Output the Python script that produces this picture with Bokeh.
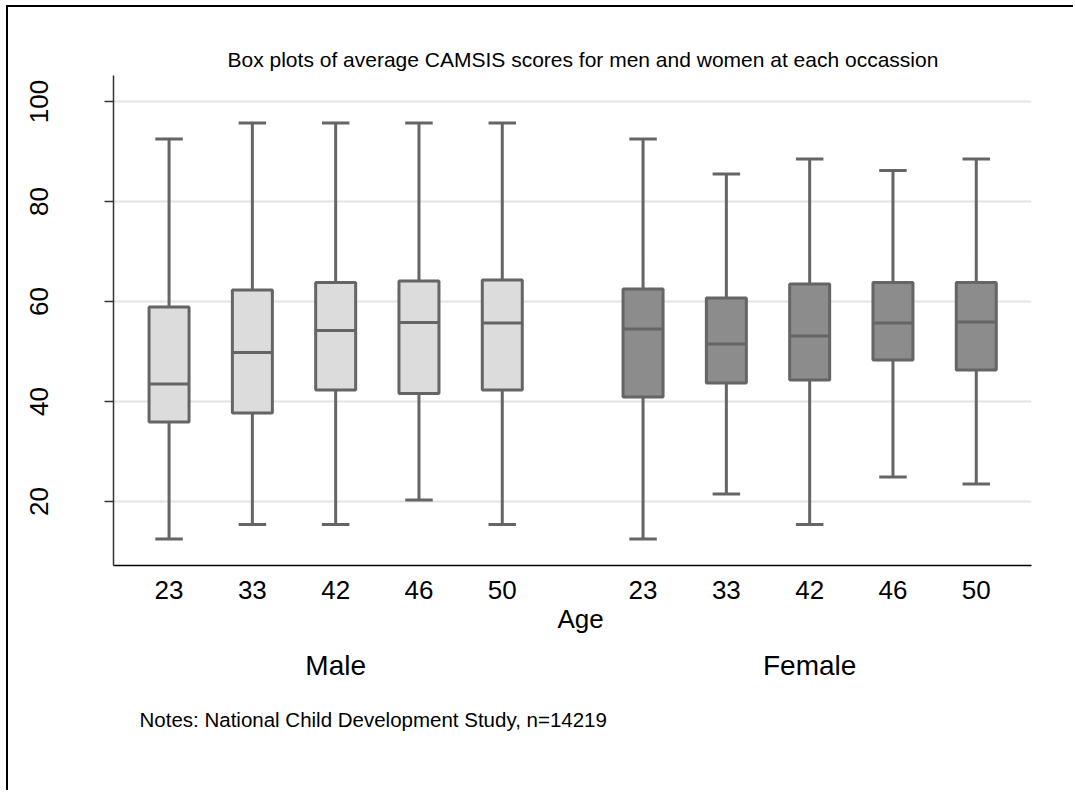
from bokeh.plotting import figure
from bokeh.models import Title, FixedTicker, LinearAxis, InlineStyleSheet
from bokeh.embed import file_html
from bokeh.resources import INLINE

# Ages at each survey sweep
ages = ["23", "33", "42", "46", "50"]
groups = ["Male", "Female"]

# Box statistics of average CAMSIS score, per sex and age
male_low = [12.5, 15.4, 15.4, 20.3, 15.4]
male_q1 = [35.9, 37.7, 42.3, 41.6, 42.3]
male_med = [43.5, 49.8, 54.2, 55.8, 55.7]
male_q3 = [58.9, 62.3, 63.8, 64.1, 64.3]
male_high = [92.5, 95.7, 95.7, 95.7, 95.7]

female_low = [12.5, 21.5, 15.4, 24.9, 23.5]
female_q1 = [40.9, 43.7, 44.3, 48.3, 46.3]
female_med = [54.5, 51.5, 53.1, 55.7, 55.9]
female_q3 = [62.5, 60.7, 63.5, 63.8, 63.8]
female_high = [92.5, 85.5, 88.5, 86.2, 88.5]

y_ticks = [20, 40, 60, 80, 100]

FONT = "Liberation Sans"
STROKE = "#656565"
FILLS = {"Male": "#dcdcdc", "Female": "#8c8c8c"}

# horizontal layout of the boxes
first_offset = 0.667
group_gap = 0.69
box_w = 0.48
cap_w = 0.33

p = figure(width=1067, height=785, output_backend="svg", toolbar_location=None,
           x_range=(0, 11.02), y_range=(7.2, 105.2),
           min_border_left=105, min_border_right=44, min_border_top=68,
           min_border_bottom=227)
p.margin = (7, 0, 0, 8)
p.outline_line_color = None
p.background_fill_color = "white"
p.border_fill_color = "white"
# thin black rule along the left and top edges of the graph region only
p.stylesheets = [InlineStyleSheet(
    css=":host { box-shadow: -2px -2px 0 0 #000000; clip-path: inset(-8px 0px 0px -8px); }")]

series = {
    "Male": (male_low, male_q1, male_med, male_q3, male_high),
    "Female": (female_low, female_q1, female_med, female_q3, female_high),
}

tick_pos = []
tick_lab = {}
group_pos = []
group_lab = {}
for gi, g in enumerate(groups):
    lo, q1, med, q3, hi = series[g]
    xs = [first_offset + gi * (len(ages) + group_gap) + i for i in range(len(ages))]
    centre = sum(xs) / len(xs)
    group_pos.append(centre)
    group_lab[centre] = g
    for x, a in zip(xs, ages):
        tick_pos.append(x)
        tick_lab[x] = a
    # whiskers
    p.segment(x0=xs, y0=q3, x1=xs, y1=hi, line_color=STROKE, line_width=3)
    p.segment(x0=xs, y0=lo, x1=xs, y1=q1, line_color=STROKE, line_width=3)
    # caps
    p.segment(x0=[x - cap_w / 2 for x in xs], y0=hi, x1=[x + cap_w / 2 for x in xs], y1=hi,
              line_color=STROKE, line_width=3)
    p.segment(x0=[x - cap_w / 2 for x in xs], y0=lo, x1=[x + cap_w / 2 for x in xs], y1=lo,
              line_color=STROKE, line_width=3)
    # boxes
    p.vbar(x=xs, width=box_w, bottom=q1, top=q3, fill_color=FILLS[g],
           line_color=STROKE, line_width=3)
    # medians
    p.segment(x0=[x - box_w / 2 for x in xs], y0=med, x1=[x + box_w / 2 for x in xs], y1=med,
              line_color=STROKE, line_width=3)

# grid and axes
p.xgrid.visible = False
p.ygrid.grid_line_color = "#e3e3e3"
p.ygrid.grid_line_width = 2
p.ygrid.ticker = FixedTicker(ticks=y_ticks)

p.yaxis.ticker = FixedTicker(ticks=y_ticks)
p.yaxis.major_label_orientation = "vertical"
p.yaxis.major_label_text_font = FONT
p.yaxis.major_label_text_font_size = "26px"
p.yaxis.major_label_text_color = "black"
p.yaxis.major_tick_out = 9
p.yaxis.major_tick_in = 0
p.yaxis.minor_tick_line_color = None
p.yaxis.major_label_standoff = 57
p.yaxis.axis_line_color = "#333333"
p.yaxis.axis_line_width = 1.5
p.yaxis.major_tick_line_color = "#333333"
p.yaxis.major_tick_line_width = 1.5

p.xaxis.ticker = FixedTicker(ticks=tick_pos)
p.xaxis.major_label_overrides = tick_lab
p.xaxis.major_label_text_font = FONT
p.xaxis.major_label_text_font_size = "26px"
p.xaxis.major_label_text_color = "black"
p.xaxis.major_tick_out = 0
p.xaxis.major_tick_in = 0
p.xaxis.minor_tick_line_color = None
p.xaxis.major_label_standoff = 15
p.xaxis.axis_line_color = "black"
p.xaxis.axis_line_width = 1.5

# title above the plot
p.add_layout(Title(text="Box plots of average CAMSIS scores for men and women at each occassion",
                   text_font=FONT, text_font_size="21px", text_font_style="normal",
                   text_color="black", align="left", offset=114, standoff=10), "above")

# axis title for the age ticks
p.add_layout(Title(text="Age", text_font=FONT, text_font_size="26px",
                   text_font_style="normal", text_color="black", align="left",
                   offset=444, standoff=0), "below")

# sex groups below the ages
group_axis = LinearAxis(ticker=FixedTicker(ticks=group_pos),
                        major_label_overrides=group_lab,
                        major_label_text_font=FONT, major_label_text_font_size="28px",
                        major_label_text_color="black", major_tick_out=0, major_tick_in=0,
                        minor_tick_line_color=None, axis_line_color=None,
                        major_label_standoff=16)
p.add_layout(group_axis, "below")

p.add_layout(Title(text="Notes: National Child Development Study, n=14219",
                   text_font=FONT, text_font_size="20.5px", text_font_style="normal",
                   text_color="black", align="left", offset=26, standoff=45), "below")

open("out.html", "w").write(file_html(p, INLINE))
